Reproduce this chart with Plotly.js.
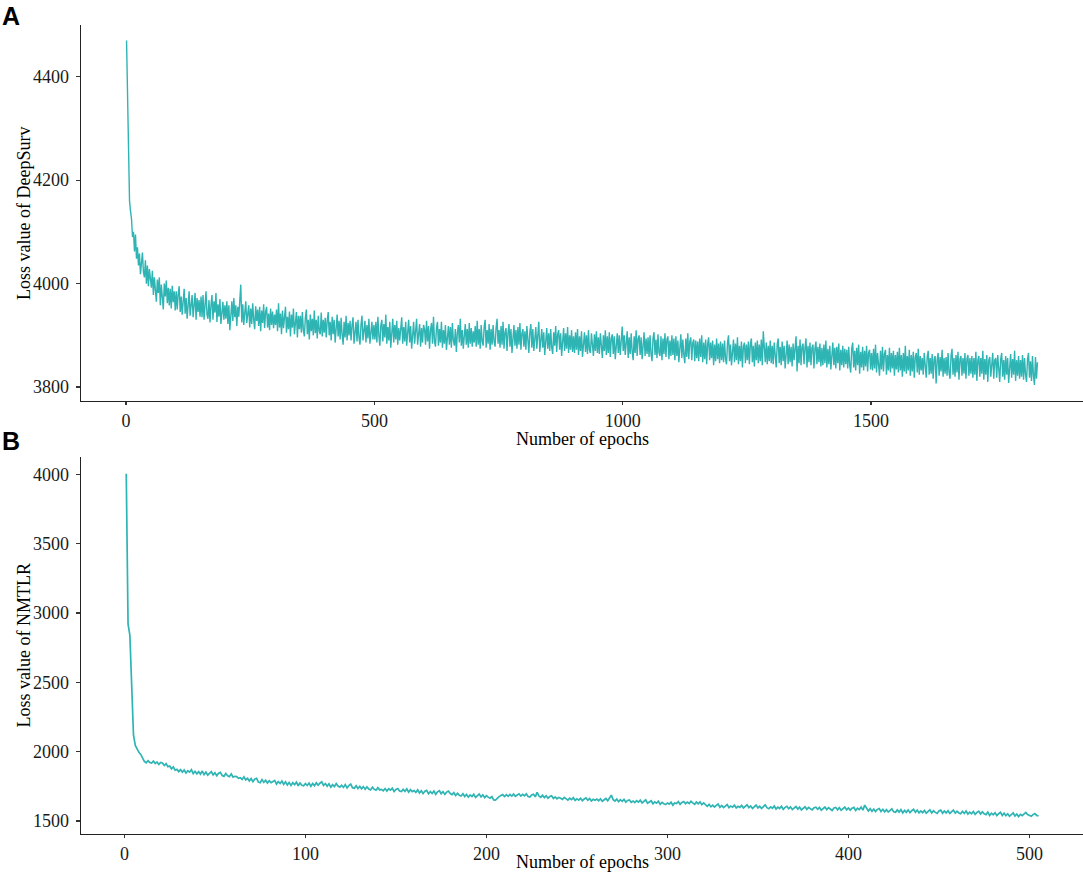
<!DOCTYPE html>
<html>
<head>
<meta charset="utf-8">
<script src="https://cdn.plot.ly/plotly-3.0.1.min.js"></script>
<style>html,body{margin:0;padding:0;background:#fff;}#chart{width:1083px;height:875px;}</style>
</head>
<body>
<div id="chart"></div>
<script>
// Panel A: DeepSurv loss, one reading every 2 epochs (epoch 1, 3, 5, ... 1835)
const deepsurvEpochStep = 2;
const deepsurvLoss = [
4470,4350,4235,4160,4140,4125,4090,4100,4062,4095,4048,4070,4035,4058,4018,4050,4060,4022,4012,4045,4000,4035,3995,4028,4010,
3992,4025,3978,4012,3990,3965,4008,3982,4012,3958,3998,3980,3950,4000,3975,4006,3962,3992,3958,3990,3952,3996,3964,3985,3948,
3985,3950,3980,3995,3945,3975,3940,3970,3990,3942,3972,3932,3966,3985,3938,3968,3978,3935,3962,3982,3930,3972,3945,3968,3936,
3975,3935,3978,3930,3960,3985,3940,3932,3968,3925,3958,3978,3930,3966,3944,3982,3926,3960,3936,3970,3922,3952,3965,3930,3958,
3932,3966,3922,3958,3910,3950,3966,3928,3972,3935,3958,3918,3955,3936,3968,3998,3925,3960,3920,3952,3966,3924,3948,3958,3915,
3952,3922,3962,3930,3912,3956,3928,3950,3918,3955,3908,3948,3924,3960,3914,3946,3955,3915,3942,3910,3952,3920,3946,3914,3940,
3920,3950,3908,3962,3915,3942,3902,3948,3914,3938,3955,3905,3936,3912,3946,3898,3940,3915,3952,3902,3932,3945,3896,3938,3912,
3938,3905,3945,3910,3898,3934,3950,3902,3930,3892,3940,3908,3932,3900,3948,3904,3930,3894,3938,3908,3902,3944,3898,3930,3905,
3934,3896,3928,3945,3900,3926,3890,3936,3902,3930,3886,3922,3940,3898,3928,3892,3934,3902,3882,3926,3896,3938,3890,3924,3900,
3928,3890,3920,3935,3884,3916,3926,3888,3930,3896,3882,3920,3938,3890,3916,3928,3886,3920,3894,3932,3884,3916,3926,3892,3920,
3892,3926,3886,3936,3900,3880,3920,3930,3888,3922,3896,3940,3884,3916,3890,3926,3876,3914,3932,3886,3920,3892,3928,3882,3914,
3890,3922,3935,3884,3916,3888,3926,3880,3912,3930,3886,3918,3874,3910,3926,3884,3916,3932,3882,3910,3922,3878,3914,3886,3920,
3912,3882,3928,3888,3918,3874,3910,3924,3884,3936,3888,3878,3914,3926,3880,3912,3886,3926,3876,3910,3884,3920,3872,3906,3918,
3882,3916,3876,3924,3890,3880,3912,3868,3904,3920,3886,3932,3880,3910,3874,3906,3922,3882,3912,3876,3924,3884,3914,3878,3908,
3886,3918,3878,3928,3882,3912,3874,3920,3888,3880,3916,3930,3876,3910,3884,3922,3872,3912,3882,3920,3888,3878,3914,3932,3884,
3910,3876,3918,3882,3926,3874,3906,3914,3870,3904,3922,3878,3912,3866,3906,3920,3880,3910,3874,3916,3882,3924,3872,3904,3912,
3878,3908,3872,3918,3880,3866,3906,3922,3876,3912,3870,3902,3916,3874,3908,3926,3868,3900,3912,3876,3906,3862,3900,3914,3874,
3904,3870,3912,3876,3864,3906,3880,3918,3868,3902,3910,3872,3904,3860,3898,3914,3870,3904,3874,3916,3866,3900,3872,3910,3868,
3898,3866,3906,3872,3912,3862,3898,3870,3908,3858,3896,3906,3868,3900,3864,3910,3872,3866,3904,3876,3860,3902,3870,3908,3866,
3896,3864,3904,3868,3856,3900,3870,3910,3862,3898,3866,3906,3858,3894,3902,3864,3898,3854,3892,3904,3866,3900,3862,3894,3917,
3870,3900,3862,3890,3908,3856,3896,3864,3904,3868,3852,3898,3866,3910,3860,3894,3900,3862,3896,3854,3890,3906,3860,3894,3864,
3896,3858,3900,3864,3850,3894,3906,3862,3892,3856,3902,3866,3860,3898,3852,3894,3864,3904,3858,3892,3898,3854,3890,3860,3900,
3862,3894,3852,3898,3860,3890,3848,3888,3902,3856,3892,3862,3846,3894,3858,3904,3854,3888,3896,3852,3886,3892,3850,3890,3856,
3888,3850,3894,3858,3900,3848,3886,3854,3892,3844,3884,3896,3852,3886,3856,3890,3842,3882,3850,3894,3854,3884,3846,3888,3852,
3884,3848,3890,3854,3844,3886,3900,3850,3882,3842,3880,3892,3848,3884,3852,3896,3844,3880,3850,3888,3838,3878,3886,3846,3882,
3852,3888,3844,3882,3894,3848,3880,3840,3886,3852,3890,3846,3882,3850,3892,3842,3908,3878,3848,3886,3844,3880,3850,3890,3846,
3880,3844,3886,3850,3838,3882,3894,3846,3878,3842,3888,3850,3880,3836,3876,3890,3844,3882,3848,3878,3840,3884,3852,3872,3898,
3830,3880,3846,3892,3842,3878,3884,3844,3876,3894,3838,3880,3848,3886,3842,3876,3882,3836,3874,3888,3844,3878,3848,3884,3840,
3876,3842,3882,3846,3890,3838,3874,3844,3880,3834,3872,3886,3842,3876,3836,3878,3846,3884,3832,3872,3842,3880,3838,3874,3844,
3872,3836,3878,3842,3828,3874,3886,3838,3870,3832,3876,3842,3882,3826,3868,3838,3878,3832,3870,3840,3880,3830,3866,3872,3834,
3866,3832,3874,3836,3882,3828,3866,3836,3822,3870,3834,3878,3830,3864,3872,3824,3862,3832,3876,3828,3866,3836,3870,3822,3862,
3834,3868,3828,3876,3832,3862,3820,3866,3830,3880,3826,3860,3832,3872,3822,3862,3830,3868,3818,3858,3866,3828,3874,3824,3860,
3832,3856,3824,3866,3834,3818,3858,3870,3824,3856,3826,3864,3816,3854,3860,3807,3852,3866,3822,3858,3830,3872,3820,3856,3826,
3858,3822,3866,3828,3816,3860,3874,3824,3856,3820,3862,3828,3868,3814,3854,3860,3822,3856,3826,3866,3816,3854,3862,3822,3856,
3826,3860,3818,3856,3824,3868,3812,3852,3860,3820,3856,3826,3870,3814,3854,3824,3862,3810,3852,3858,3820,3856,3866,3816,3852,
3856,3818,3862,3824,3810,3854,3866,3820,3852,3814,3860,3824,3856,3808,3850,3864,3818,3854,3824,3870,3812,3852,3822,3860,3816,
3852,3820,3862,3814,3856,3824,3810,3854,3866,3818,3850,3812,3860,3822,3804,3858,3816,3848
];

// Panel B: NMTLR loss, one reading per epoch (epoch 1 ... 505)
const nmtlrLoss = [
4005,2920,2840,2400,2120,2045,2015,1995,1980,1955,1930,1920,1935,1922,1918,1932,1914,1926,1908,1922,
1918,1900,1914,1892,1896,1876,1890,1866,1872,1856,1870,1852,1868,1846,1862,1852,1870,1842,1858,1840,
1856,1838,1860,1834,1852,1830,1846,1856,1832,1848,1826,1844,1850,1828,1822,1842,1826,1820,1840,1816,
1822,1820,1808,1812,1800,1818,1796,1808,1788,1806,1784,1802,1808,1780,1776,1798,1778,1794,1774,1790,
1776,1784,1792,1766,1784,1770,1788,1764,1782,1760,1778,1756,1776,1762,1780,1754,1774,1758,1754,1770,
1756,1774,1750,1770,1754,1776,1758,1772,1782,1756,1770,1750,1768,1744,1762,1748,1770,1752,1744,1758,
1742,1762,1738,1756,1766,1740,1736,1754,1734,1750,1732,1748,1728,1746,1730,1724,1744,1728,1722,1740,
1724,1728,1718,1734,1716,1732,1722,1736,1712,1728,1734,1716,1712,1728,1714,1732,1708,1726,1712,1720,
1706,1724,1702,1718,1698,1714,1720,1696,1712,1698,1716,1692,1710,1718,1696,1712,1692,1708,1716,1698,
1690,1704,1684,1700,1686,1680,1696,1676,1692,1672,1688,1676,1692,1670,1686,1694,1674,1688,1668,1682,
1672,1664,1676,1652,1650,1664,1676,1684,1690,1676,1690,1678,1692,1680,1694,1678,1690,1696,1680,1692,
1682,1696,1676,1672,1688,1692,1674,1706,1680,1670,1686,1668,1682,1664,1676,1682,1662,1674,1660,1670,
1664,1656,1670,1658,1650,1664,1654,1668,1648,1660,1650,1664,1646,1658,1666,1650,1662,1644,1656,1650,
1658,1646,1660,1642,1652,1662,1646,1672,1686,1654,1644,1658,1640,1654,1642,1656,1636,1648,1652,1634,
1644,1632,1646,1636,1650,1630,1642,1652,1628,1640,1646,1624,1638,1628,1642,1620,1634,1624,1618,1630,
1622,1636,1614,1630,1626,1640,1620,1634,1640,1624,1636,1626,1642,1630,1620,1636,1624,1638,1618,1630,
1618,1606,1620,1602,1614,1600,1612,1622,1598,1612,1596,1608,1618,1596,1608,1600,1614,1594,1606,1598,
1612,1594,1606,1616,1596,1608,1590,1604,1614,1594,1606,1590,1604,1616,1596,1588,1602,1592,1608,1586,
1600,1590,1606,1584,1598,1606,1588,1602,1582,1596,1604,1586,1600,1580,1594,1602,1584,1598,1588,1580,
1596,1600,1584,1598,1578,1592,1600,1582,1596,1586,1576,1594,1598,1580,1596,1578,1590,1600,1580,1594,
1578,1592,1598,1576,1592,1582,1600,1578,1614,1590,1572,1588,1570,1586,1568,1584,1590,1568,1584,1566,
1582,1564,1578,1588,1566,1562,1580,1564,1582,1558,1576,1562,1580,1560,1574,1584,1562,1578,1558,1572,
1560,1576,1556,1570,1580,1558,1574,1562,1554,1572,1578,1556,1572,1558,1574,1554,1568,1578,1556,1570,
1558,1552,1570,1554,1572,1550,1564,1552,1568,1548,1562,1570,1550,1566,1552,1546,1564,1540,1556,1544,
1560,1538,1552,1562,1540,1556,1538,1552,1534,1548,1558,1536,1550,1532,1548,1538,1554,1562,1546,1538,
1534,1546,1554,1540,1536
];

const xTicksA = [0, 500, 1000, 1500];
const yTicksA = [3800, 4000, 4200, 4400];
const xTicksB = [0, 100, 200, 300, 400, 500];
const yTicksB = [1500, 2000, 2500, 3000, 3500, 4000];

const xTitle = "Number of epochs";
const yTitleA = "Loss value of DeepSurv";
const yTitleB = "Loss value of NMTLR";
const panelLabels = ["A", "B"];

const epochsA = deepsurvLoss.map((_, i) => 1 + i * deepsurvEpochStep);
const epochsB = nmtlrLoss.map((_, i) => 1 + i);

const lineColor = "#2fb4b4";
const serif = "Liberation Serif, Times New Roman, serif";
const fs = 18;

const traces = [
  {x: epochsA, y: deepsurvLoss, type: "scatter", mode: "lines", xaxis: "x", yaxis: "y",
   line: {color: lineColor, width: 1.4}, hoverinfo: "skip", showlegend: false},
  {x: epochsB, y: nmtlrLoss, type: "scatter", mode: "lines", xaxis: "x2", yaxis: "y2",
   line: {color: lineColor, width: 1.7}, hoverinfo: "skip", showlegend: false}
];

function axisStyle(extra) {
  return Object.assign({
    showline: true, linecolor: "#222", linewidth: 1.4, mirror: false,
    showgrid: false, zeroline: false,
    ticks: "outside", ticklen: 4, tickwidth: 1.2, tickcolor: "#333",
    tickfont: {family: serif, size: fs, color: "#1a1a1a"},
    automargin: false, fixedrange: true
  }, extra);
}

const layout = {
  width: 1083, height: 875,
  margin: {l: 81, r: 0, t: 25, b: 41, pad: 0},
  paper_bgcolor: "#ffffff", plot_bgcolor: "#ffffff",
  showlegend: false,
  xaxis: axisStyle({domain: [0, 1], anchor: "y", range: [-90.7, 1926.7], tickvals: xTicksA, ticklen: 3}),
  yaxis: axisStyle({domain: [0.5352, 1], anchor: "x", range: [3773, 4500], tickvals: yTicksA, ticklabelstandoff: 3}),
  xaxis2: axisStyle({domain: [0, 1], anchor: "y2", range: [-24, 529.6], tickvals: xTicksB, ticklen: 3}),
  yaxis2: axisStyle({domain: [0, 0.466], anchor: "x2", range: [1406, 4125], tickvals: yTicksB, ticklabelstandoff: 3}),
  annotations: [
    {text: xTitle, xref: "paper", yref: "paper", x: 0.5, y: 0.4882, xanchor: "center", yanchor: "middle",
     showarrow: false, font: {family: serif, size: fs, color: "#000"}},
    {text: xTitle, xref: "paper", yref: "paper", x: 0.5, y: -0.0494, xanchor: "center", yanchor: "bottom",
     showarrow: false, font: {family: serif, size: fs, color: "#000"}},
    {text: yTitleA, xref: "paper", yref: "paper", x: -0.0569, y: 0.7676, xanchor: "center", yanchor: "middle",
     textangle: -90, showarrow: false, font: {family: serif, size: fs, color: "#000"}},
    {text: yTitleB, xref: "paper", yref: "paper", x: -0.0569, y: 0.233, xanchor: "center", yanchor: "middle",
     textangle: -90, showarrow: false, font: {family: serif, size: fs, color: "#000"}},
    {text: "<b>" + panelLabels[0] + "</b>", xref: "paper", yref: "paper", x: -0.0808, y: 1.0117, xanchor: "left", yanchor: "middle",
     showarrow: false, font: {family: "Liberation Sans, Arial, sans-serif", size: 25, color: "#000"}},
    {text: "<b>" + panelLabels[1] + "</b>", xref: "paper", yref: "paper", x: -0.0808, y: 0.4852, xanchor: "left", yanchor: "middle",
     showarrow: false, font: {family: "Liberation Sans, Arial, sans-serif", size: 25, color: "#000"}}
  ]
};

Plotly.newPlot("chart", traces, layout, {displayModeBar: false, staticPlot: true});
</script>
</body>
</html>
